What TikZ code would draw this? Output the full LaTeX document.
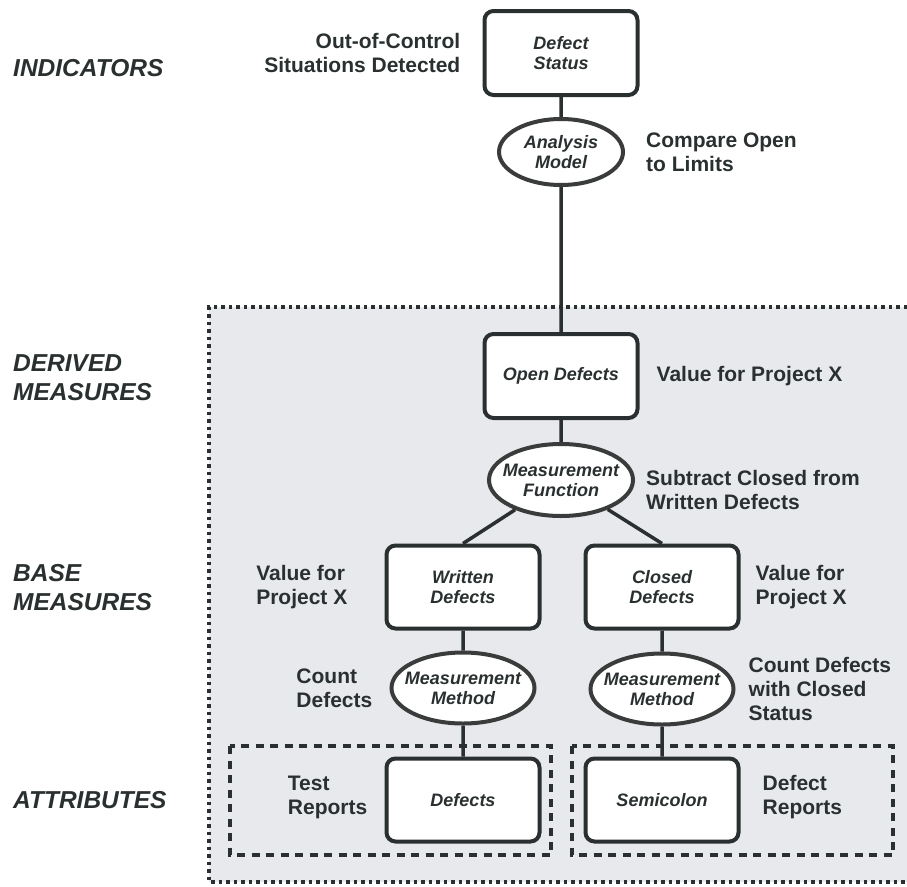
\documentclass[tikz,border=0pt]{standalone}
\usepackage{fontspec}
\setmainfont{Liberation Sans}
\usetikzlibrary{positioning,calc,shapes}

\definecolor{ink}{RGB}{42,48,48}
\definecolor{ovalink}{RGB}{58,60,60}
\definecolor{panel}{RGB}{232,233,237}

\newcommand{\boxfont}{\fontsize{18}{20}\selectfont\bfseries\itshape}
\newcommand{\notefont}{\fontsize{21}{24}\selectfont\bfseries}
\newcommand{\levelfont}{\fontsize{24.5}{29}\selectfont\bfseries\itshape}

\tikzset{
  box/.style={draw=ink,line width=4pt,rounded corners=9pt,fill=white,minimum width=153pt,minimum height=84pt,align=center,text=ink,font=\boxfont},
  oval/.style={ellipse,draw=ovalink,line width=4pt,fill=white,inner xsep=-10pt,inner ysep=0pt,minimum width=143pt,minimum height=71pt,align=center,text=ink,font=\boxfont},
  note/.style={inner sep=0pt,align=left,text=ink,font=\notefont},
  level/.style={inner sep=0pt,anchor=west,align=left,text=ink,font=\levelfont},
  link/.style={draw=ink,line width=3.5pt},
}

\begin{document}
\begin{tikzpicture}[x=1pt,y=-1pt]
    \useasboundingbox (0,0) rectangle (907,886);
    % grey panel with the measures
    \fill[panel] (209,307) rectangle (907,882);
    \draw[ink,line width=3.5pt,dash pattern=on 3.5pt off 4pt] (907,307) -| (209,882) -- (907,882);
    \draw[ink,line width=3.5pt,dash pattern=on 8pt off 6.5pt] (230,746) rectangle (551,855);
    \draw[ink,line width=3.5pt,dash pattern=on 8pt off 6.5pt] (572,746) rectangle (893,855);
    % levels
    \node[level] (ind) at (13,68) {INDICATORS};
    \node[level] (der) at (13,378) {DERIVED\\MEASURES};
    \node[level] (bas) at (13,588) {BASE\\MEASURES};
    \node[level] (att) at (13,800) {ATTRIBUTES};
    % measures
    \node[box] (ds) at (561,53) {Defect\\Status};
    \node[oval,minimum width=124pt,minimum height=66pt] (am) at (561,152) {Analysis\\Model};
    \node[box] (od) at (561,376) {Open Defects};
    \node[oval,minimum width=144pt,minimum height=72pt] (mf) at (561,480) {Measurement\\Function};
    \node[box,minimum height=83pt] (wd) at (463,587) {Written\\Defects};
    \node[box,minimum height=83pt] (cd) at (662,587) {Closed\\Defects};
    \node[oval] (mmw) at (463,688) {Measurement\\Method};
    \node[oval] (mmc) at (662,689) {Measurement\\Method};
    \node[box,minimum height=83pt] (df) at (463,800) {Defects};
    \node[box,minimum height=83pt] (sc) at (662,800) {Semicolon};
    % notes
    \node[note,align=right](dsnote)[left=22pt of ds] {Out-of-Control\\Situations Detected};
    \node[note](amnote)[right=21pt of am] {Compare Open\\to Limits};
    \node[note](odnote)[right=17pt of od] {Value for Project X};
    \node[note](mfnote)[right=11pt of mf,yshift=-10pt] {Subtract Closed from\\Written Defects};
    \node[note](wdnote)[left=37pt of wd] {Value for\\Project X};
    \node[note](cdnote)[right=15pt of cd] {Value for\\Project X};
    \node[note](mmwnote)[left=17pt of mmw] {Count\\Defects};
    \node[note](mmcnote)[right=13pt of mmc] {Count Defects\\with Closed\\Status};
    \node[note](dfnote)[left=17pt of df,yshift=3pt] {Test\\Reports};
    \node[note](scnote)[right=22pt of sc,yshift=3pt] {Defect\\Reports};
    % links
    \path[link] (ds) -- (am)
        (am) -- (od)
        (od) -- (mf)
        (mf) -- (wd.north)
        (mf) -- (cd.north)
        (wd) -- (mmw)
        (cd) -- (mmc)
        (mmw) -- (df)
        (mmc) -- (sc);
\end{tikzpicture}
\end{document}
